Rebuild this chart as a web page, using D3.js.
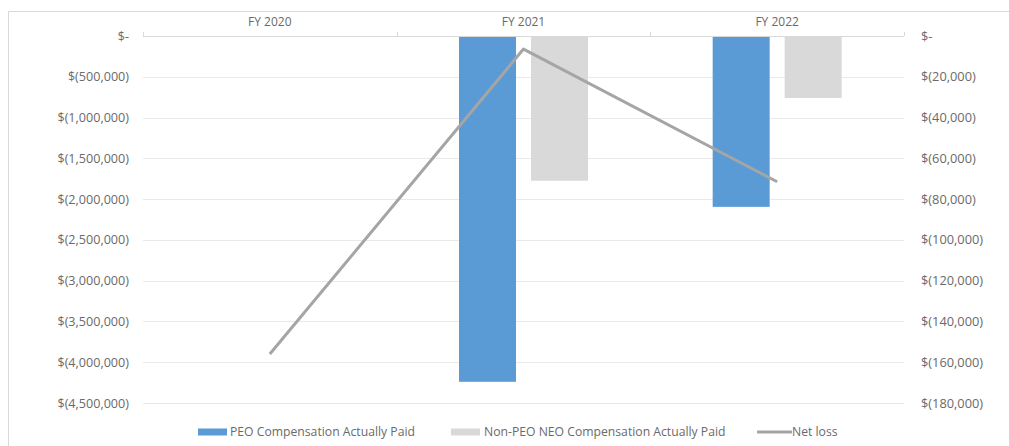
<!DOCTYPE html>
<html>
<head>
<meta charset="utf-8">
<script src="https://cdn.jsdelivr.net/npm/d3@7"></script>
<style>
  html, body { margin: 0; padding: 0; background: #fff; }
  svg { display: block; }
  text { font-family: "Open Sans", "DejaVu Sans", sans-serif; fill: #6a6a6a; }
</style>
</head>
<body>
<svg id="chart" width="1009" height="446"></svg>
<script>
// ---- data ----
const categories = ["FY 2020", "FY 2021", "FY 2022"];
const peoPaid = [null, -4240000, -2095000];
const nonPeoPaid = [null, -1775000, -760000];
const netLoss = [-156000, -6400, -71500];
const leftTicks = [0, -500000, -1000000, -1500000, -2000000, -2500000, -3000000, -3500000, -4000000, -4500000];
const rightTicks = [0, -20000, -40000, -60000, -80000, -100000, -120000, -140000, -160000, -180000];
const seriesNames = ["PEO Compensation Actually Paid", "Non-PEO NEO Compensation Actually Paid", "Net loss"];
const seriesColors = ["#5b9bd5", "#d9d9d9", "#a5a5a5"];

const svg = d3.select("#chart");
const W = 1009, H = 446;
const plotL = 143, plotR = 904, plotT = 36, plotB = 403;

// chart frame
svg.append("line").attr("x1", 8.5).attr("x2", W).attr("y1", 11.5).attr("y2", 11.5)
  .attr("stroke", "#d9d9d9").attr("stroke-width", 1);
svg.append("line").attr("x1", 8.5).attr("x2", 8.5).attr("y1", 11.5).attr("y2", H)
  .attr("stroke", "#d9d9d9").attr("stroke-width", 1);

const x = d3.scaleBand().domain(categories).range([plotL, plotR]).padding(0);
const xs = d3.scaleBand().domain([0, 1]).range([0, x.bandwidth()]).paddingInner(0.208).paddingOuter(0.866);
const yL = d3.scaleLinear().domain([-4500000, 0]).range([plotB, plotT]);
const yR = d3.scaleLinear().domain([-180000, 0]).range([plotB, plotT]);

const fmt = v => v === 0 ? "$-" : "$(" + d3.format(",")(Math.abs(v)) + ")";

// gridlines
svg.append("g").selectAll("line").data(leftTicks.filter(v => v !== 0)).join("line")
  .attr("x1", plotL).attr("x2", plotR)
  .attr("y1", d => Math.round(yL(d)) + 0.5).attr("y2", d => Math.round(yL(d)) + 0.5)
  .attr("stroke", "#e9e9e9").attr("stroke-width", 1);

// left axis
const axL = svg.append("g").attr("transform", `translate(${plotL},0)`)
  .call(d3.axisLeft(yL).tickValues(leftTicks).tickFormat(fmt).tickSize(0).tickPadding(14));
axL.select(".domain").remove();
axL.selectAll("text").style("font-size", "12.6px").attr("fill", "#6a6a6a");

// right axis
const axR = svg.append("g").attr("transform", `translate(${plotR},0)`)
  .call(d3.axisRight(yR).tickValues(rightTicks).tickFormat(fmt).tickSize(0).tickPadding(17));
axR.select(".domain").remove();
axR.selectAll("text").style("font-size", "12.8px").attr("fill", "#6a6a6a");

// bars
const barData = [];
categories.forEach((c, i) => {
  if (peoPaid[i] !== null) barData.push({ c, s: 0, v: peoPaid[i] });
  if (nonPeoPaid[i] !== null) barData.push({ c, s: 1, v: nonPeoPaid[i] });
});
svg.append("g").selectAll("rect").data(barData).join("rect")
  .attr("x", d => x(d.c) + xs(d.s))
  .attr("width", xs.bandwidth())
  .attr("y", d => yL(0))
  .attr("height", d => yL(d.v) - yL(0))
  .attr("fill", d => seriesColors[d.s]);

// zero axis line with category ticks at top
svg.append("line").attr("x1", plotL).attr("x2", plotR)
  .attr("y1", Math.round(yL(0)) + 0.5).attr("y2", Math.round(yL(0)) + 0.5)
  .attr("stroke", "#d9d9d9").attr("stroke-width", 1);
const edges = categories.map(c => x(c)).concat([plotR]);
svg.append("g").selectAll("line").data(edges).join("line")
  .attr("x1", d => Math.round(d) + 0.5).attr("x2", d => Math.round(d) + 0.5)
  .attr("y1", yL(0) - 4).attr("y2", yL(0))
  .attr("stroke", "#d9d9d9").attr("stroke-width", 1);

// category labels at top
svg.append("g").selectAll("text").data(categories).join("text")
  .attr("x", d => x(d) + x.bandwidth() / 2)
  .attr("y", 25.5)
  .attr("text-anchor", "middle")
  .style("font-size", "12px")
  .text(d => d);

// net loss line
const line = d3.line().x((d, i) => x(categories[i]) + x.bandwidth() / 2).y(d => yR(d));
svg.append("path").datum(netLoss).attr("d", line)
  .attr("fill", "none").attr("stroke", seriesColors[2]).attr("stroke-width", 3)
  .attr("stroke-linejoin", "round");

// legend
const legend = svg.append("g");
const legItems = [
  { name: seriesNames[0], color: seriesColors[0], type: "rect", sx: 198, tx: 230 },
  { name: seriesNames[1], color: seriesColors[1], type: "rect", sx: 451, tx: 484 },
  { name: seriesNames[2], color: seriesColors[2], type: "line", sx: 757, tx: 792 }
];
const ly = 432;
legItems.forEach(it => {
  if (it.type === "rect") {
    legend.append("rect").attr("x", it.sx).attr("y", ly - 3.5).attr("width", 29).attr("height", 7).attr("fill", it.color);
  } else {
    legend.append("line").attr("x1", it.sx).attr("x2", it.sx + 35).attr("y1", ly).attr("y2", ly)
      .attr("stroke", it.color).attr("stroke-width", 3);
  }
  legend.append("text").attr("x", it.tx).attr("y", ly + 4).style("font-size", "12.2px").text(it.name);
});
</script>
</body>
</html>
